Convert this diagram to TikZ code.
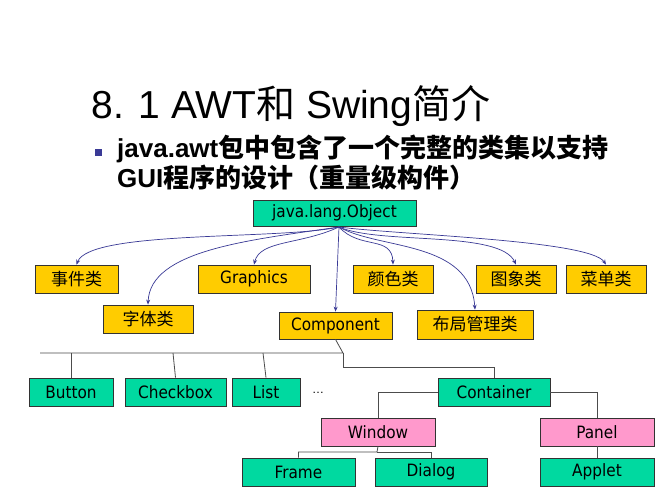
\documentclass[tikz,border=0pt]{standalone}
\usepackage{fontspec}
\setmainfont{Liberation Sans}
\newfontfamily\cjk{Noto Sans CJK SC}
\newfontfamily\boxfont{DejaVu Sans Condensed}
\newcommand{\zh}[1]{{\cjk #1}}
\usetikzlibrary{arrows.meta}
\definecolor{gr}{HTML}{00D9A0}
\definecolor{ye}{HTML}{FFCC00}
\definecolor{pk}{HTML}{FF99CC}
\definecolor{ar}{HTML}{3A3A96}
\begin{document}
\begin{tikzpicture}[x=1pt,y=-1pt,
 bx/.style={draw=black!80,line width=0.8pt,inner sep=0pt,font=\boxfont\fontsize{17}{18}\selectfont},
 g/.style={bx,fill=gr}, yl/.style={bx,fill=ye}, p/.style={bx,fill=pk},
 arr/.style={draw=ar,line width=0.7pt,-{Stealth[length=5pt,width=4pt]}},
 ln/.style={draw=black!70,line width=0.8pt}]
\useasboundingbox[fill=white] (0,0) rectangle (667,500);
\newcommand{\bn}[6]{\node[#1,minimum width=#4-#3,minimum height=#6-#5] (#2) at ({(#3+#4)/2},{(#5+#6)/2})}
\node[anchor=base west,font=\fontsize{39}{40}\selectfont] (title) at (88,119) {8. 1 AWT\zh{和} Swing\zh{简介}};
\node[fill=ar,minimum size=7pt,inner sep=0pt] (bul) at (98,153) {};
\node[anchor=north west,inner sep=0pt,font=\bfseries\fontsize{26}{30}\selectfont,align=left] (txt) at (117,135) {java.awt\zh{包中包含了一个完整的类集以支持}\\GUI\zh{程序的设计（重量级构件）}};
\bn{g}{obj}{253}{416}{200}{226} {java.lang.Object};
\bn{yl}{ev}{35}{118}{265}{293} {\zh{事件类}};
\bn{yl}{gra}{198}{310}{265}{293} {Graphics};
\bn{yl}{col}{353}{433}{265}{293} {\zh{颜色类}};
\bn{yl}{img}{476}{556}{265}{293} {\zh{图象类}};
\bn{yl}{menu}{566}{646}{265}{293} {\zh{菜单类}};
\bn{yl}{font}{103}{193}{305}{333} {\zh{字体类}};
\bn{yl}{comp}{279}{392}{312}{339} {Component};
\bn{yl}{lay}{417}{533}{310}{339} {\zh{布局管理类}};
\bn{g}{btn}{29}{113}{378}{406} {Button};
\bn{g}{chk}{125}{226}{378}{406} {Checkbox};
\bn{g}{lst}{232}{300}{378}{406} {List};
\node[font=\fontsize{12}{12}\selectfont] (dots) at (318,393) {\dots};
\bn{g}{cont}{438}{550}{378}{406} {Container};
\bn{p}{win}{321}{435}{418}{446} {Window};
\bn{p}{pan}{540}{654}{418}{446} {Panel};
\bn{g}{frm}{242}{355}{458}{486} {Frame};
\bn{g}{dlg}{375}{487}{458}{486} {Dialog};
\bn{g}{app}{540}{654}{458}{486} {Applet};
\coordinate (o) at (339,227);
\draw[arr] (o) .. controls (280,240) and (90,230) .. (ev.north);
\draw[arr] (o) .. controls (250,240) and (150,250) .. (font.north);
\draw[arr] (o) .. controls (300,245) and (260,240) .. (gra.north);
\draw[arr] (o) -- (comp.north);
\draw[arr] (o) .. controls (360,250) and (392,235) .. (col.north);
\draw[arr] (o) .. controls (380,250) and (470,240) .. (lay.north);
\draw[arr] (o) .. controls (380,245) and (500,230) .. (img.north);
\draw[arr] (o) .. controls (400,235) and (590,240) .. (menu.north);
\coordinate (hl) at (40,353);
\draw[ln] (comp.south) -- (343,353) -- (hl);
\draw[ln] (btn.north) -- (71,353);
\draw[ln] (chk.north) -- (173,353);
\draw[ln] (lst.north) -- (263,353);
\draw[ln] (343,353) -- (343,367) -| (cont.north);
\draw[ln] (cont.west) -| (win.north);
\draw[ln] (cont.east) -| (pan.north);
\draw[ln] (win.south) -- (377,452) -| (frm.north);
\draw[ln] (377,452) -| (dlg.north);
\draw[ln] (pan.south) -- (app.north);
\end{tikzpicture}
\end{document}
